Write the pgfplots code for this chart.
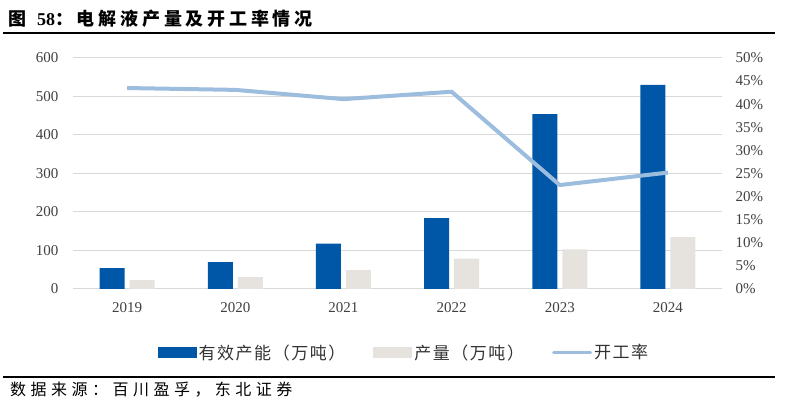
\documentclass[border=0pt]{standalone}
\usepackage{fontspec}
\setmainfont{Liberation Serif}
\newfontfamily\cjk{Noto Sans CJK SC}
\newfontfamily\cjksp[LetterSpace=21]{Noto Sans CJK SC}
\newfontfamily\cjksrc[LetterSpace=28]{Noto Sans CJK SC}
\newfontfamily\cjkleg[LetterSpace=9]{Noto Sans CJK SC}
\usepackage{pgfplots}
\pgfplotsset{compat=1.18}
\definecolor{barblue}{HTML}{0057A8}
\definecolor{bargray}{HTML}{E6E3DE}
\definecolor{lineblue}{HTML}{9DBDDF}
\definecolor{gridgray}{HTML}{D9D9D9}
\begin{document}
\begin{tikzpicture}
\useasboundingbox (0,0) rectangle (790pt,412pt);
% title and rules
\node[anchor=base west, inner sep=0pt] at (8pt,386pt)
  {\fontsize{18}{18}\selectfont{\cjk\bfseries 图}\hspace{11pt}{\bfseries 58}{\cjksp\bfseries ：电解液产量及开工率情况}};
\draw[line width=1.5pt] (3pt,379pt) -- (775pt,379pt);
\draw[line width=1.5pt] (3pt,35pt) -- (775pt,35pt);
\node[anchor=base west, inner sep=0pt] at (10pt,16pt)
  {\fontsize{16}{16}\selectfont\cjksrc 数据来源：百川盈孚，东北证券};

\begin{axis}[
  at={(73pt,123pt)}, anchor=south west,
  scale only axis, width=649pt, height=231pt,
  xmin=-0.5, xmax=5.5, ymin=0, ymax=600,
  xtick={0,...,5}, xticklabels={2019,2020,2021,2022,2023,2024},
  ytick={0,100,...,600},
  axis line style={draw=none}, major tick length=0pt,
  ymajorgrids, grid style={gridgray, line width=1pt},
  ybar=5pt, bar width=25pt,
  /pgf/number format/assume math mode=true,
  tick label style={font=\fontsize{15}{15}\selectfont, text=black!75},
  yticklabel style={xshift=-11pt},
  xticklabel style={yshift=-10pt},
  legend style={at={(0.1255,-0.275)}, anchor=west, draw=none, fill=none,
    legend columns=3,
    font=\cjkleg\fontsize{17}{17}\selectfont,
    /tikz/every even column/.append style={column sep=26pt},
    nodes={inner sep=2pt, text=black!80}},
]
\addplot[fill=barblue, draw=none,
  legend image code/.code={\fill[barblue] (0pt,-5.5pt) rectangle (39pt,5.5pt);}]
  coordinates {(0,54.5) (1,70) (2,118) (3,184) (4,454) (5,530)};
\addlegendentry{有效产能（万吨）}
\addplot[fill=bargray, draw=none,
  legend image code/.code={\fill[bargray] (0pt,-5.5pt) rectangle (39pt,5.5pt);}]
  coordinates {(0,23) (1,31) (2,49) (3,79) (4,103) (5,135)};
\addlegendentry{产量（万吨）}
\addlegendimage{legend image code/.code={\draw[lineblue, line width=3pt, line cap=round] (1pt,0pt) -- (38pt,0pt);}}
\addlegendentry{开工率}
\end{axis}

\begin{axis}[
  at={(73pt,123pt)}, anchor=south west,
  scale only axis, width=649pt, height=231pt,
  xmin=-0.5, xmax=5.5, ymin=0, ymax=50,
  axis y line*=right, axis x line=none,
  ytick={0,5,...,50},
  yticklabel={\pgfmathprintnumber{\tick}\%},
  axis line style={draw=none}, major tick length=0pt,
  /pgf/number format/assume math mode=true,
  tick label style={font=\fontsize{15}{15}\selectfont, text=black!75},
  yticklabel style={xshift=10pt},
]
\addplot[lineblue, line width=4pt, line join=round]
  coordinates {(0,43.5) (1,43.1) (2,41.1) (3,42.7) (4,22.5) (5,25.2)};
\end{axis}
\end{tikzpicture}
\end{document}
